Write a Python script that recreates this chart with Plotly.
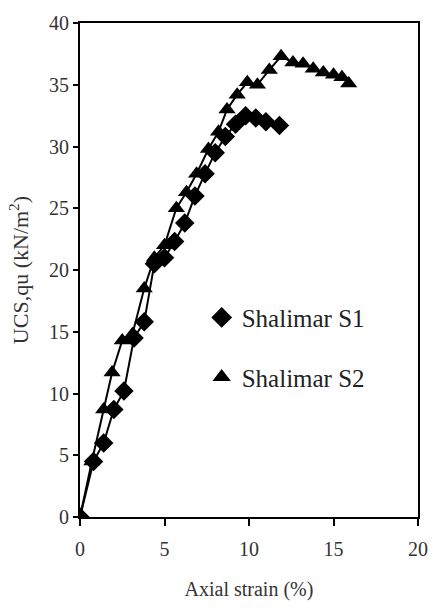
import plotly.graph_objects as go

s1_strain = [0, 0.8, 1.4, 2.0, 2.6, 3.2, 3.8, 4.4, 5.0, 5.6, 6.2, 6.8, 7.4, 8.0, 8.6, 9.2, 9.8, 10.4, 11.0, 11.8]
s1_ucs = [0, 4.5, 6.0, 8.7, 10.2, 14.5, 15.8, 20.5, 21.0, 22.3, 23.8, 26.0, 27.8, 29.5, 30.8, 31.8, 32.5, 32.3, 32.0, 31.7]

s2_strain = [0, 0.7, 1.4, 1.9, 2.5, 3.1, 3.8, 4.4, 5.0, 5.7, 6.3, 6.9, 7.6, 8.2, 8.7, 9.3, 9.9, 10.5, 11.2, 11.9, 12.6, 13.2, 13.8, 14.4, 15.0, 15.5, 15.9]
s2_ucs = [0, 4.5, 8.7, 11.7, 14.3, 14.8, 18.5, 21.0, 22.0, 25.0, 26.3, 27.8, 29.8, 31.2, 33.0, 34.2, 35.2, 35.0, 36.2, 37.3, 36.8, 36.7, 36.3, 36.0, 35.8, 35.6, 35.1]

names = ["Shalimar S1", "Shalimar S2"]
x_ticks = [0, 5, 10, 15, 20]
y_ticks = [0, 5, 10, 15, 20, 25, 30, 35, 40]

serif = "Liberation Serif"
fig = go.Figure()
fig.add_trace(go.Scatter(x=s1_strain, y=s1_ucs, mode="lines+markers", showlegend=False,
                         line=dict(color="black", width=2),
                         marker=dict(symbol="diamond", size=15, color="black")))
fig.add_trace(go.Scatter(x=s2_strain, y=s2_ucs, mode="lines+markers", showlegend=False,
                         line=dict(color="black", width=2),
                         marker=dict(symbol="triangle-up", size=15, color="black")))
fig.add_trace(go.Scatter(x=[None], y=[None], mode="markers", name=names[0], legendgroup="a",
                         marker=dict(symbol="diamond", size=17, color="black")))
fig.add_trace(go.Scatter(x=[None], y=[None], mode="markers", name=names[1], legendgroup="b",
                         marker=dict(symbol="triangle-up", size=17, color="black")))

fig.update_layout(
    width=440, height=611,
    margin=dict(l=80, r=13, t=13, b=94),
    plot_bgcolor="white", paper_bgcolor="white",
    font=dict(family=serif, color="#333", size=20),
    legend=dict(x=0.36, y=0.45, xanchor="left", yanchor="top", bgcolor="rgba(0,0,0,0)",
                font=dict(size=25, family=serif, color="#222"), tracegroupgap=24,
                traceorder="grouped", itemwidth=30),
    xaxis=dict(range=[0, 20], tickvals=x_ticks, showgrid=False, zeroline=False,
               showline=True, linecolor="black", linewidth=2, mirror=True,
               ticks="outside", ticklen=7, tickwidth=2, tickcolor="black",
               ticklabelstandoff=6,
               title=dict(text="Axial strain (%)", font=dict(size=20, family=serif), standoff=23),
               tickfont=dict(size=20, family=serif)),
    yaxis=dict(range=[0, 40], tickvals=y_ticks, showgrid=False, zeroline=False,
               showline=True, linecolor="black", linewidth=2, mirror=True,
               ticks="outside", ticklen=5, tickwidth=2, tickcolor="black",
               title=dict(text="UCS,qu (kN/m<sup>2</sup>)", font=dict(size=22, family=serif), standoff=14),
               tickfont=dict(size=20, family=serif)),
)
fig.write_html("out.html")
